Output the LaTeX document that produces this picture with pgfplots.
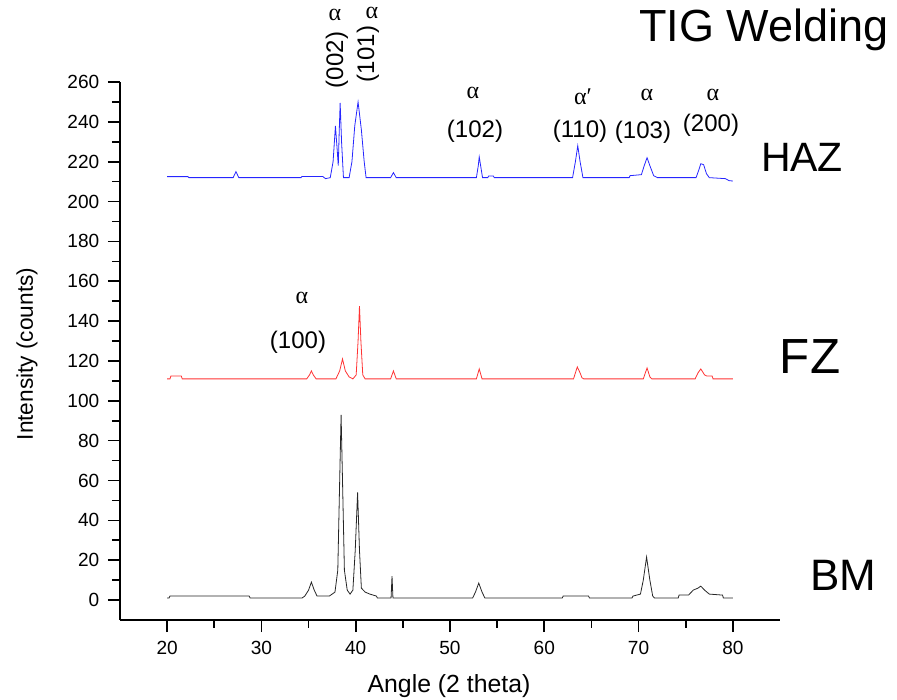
\documentclass[border=0pt]{standalone}
\usepackage{fontspec}
\setmainfont{Liberation Sans}
\newfontfamily\grk{Liberation Serif}
\usepackage{pgfplots}
\pgfplotsset{compat=1.18}

% XRD patterns, TIG welded sample: base metal, fusion zone, heat affected zone
\pgfplotstableread{
x y
20.0 1
20.2 1
20.3 2
28.7 2
28.8 1
34.3 1
34.6 2
35.0 5
35.3 9
35.6 5
35.9 2
37.2 2
37.8 4
38.1 15
38.3 60
38.45 93
38.6 60
38.8 15
39.1 5
39.4 3
39.7 5
39.95 25
40.2 54
40.4 25
40.6 6
41.0 4
41.5 3
42.2 2
42.3 1
43.75 1
43.85 12
43.95 1
52.4 1
52.7 4
53.05 8.5
53.4 4
53.7 1
61.9 1
62.0 2
64.7 2
64.8 1
69.3 1
69.4 2
70.2 3
70.5 10
70.85 21.6
71.2 10
71.5 2
71.7 1
74.2 1
74.3 2.5
75.3 2.5
75.8 5
76.3 6
76.6 7
77.0 5
77.5 3
78.9 2.5
79.0 1
80.0 1
}\bm

\pgfplotstableread{
x y
20.0 111
20.3 111
20.4 112.5
21.5 112.5
21.6 111
34.8 111
35.1 113
35.3 115
35.5 113
35.8 111
37.9 111
38.3 115
38.6 121
38.9 115
39.3 112
39.7 111
40.05 113
40.25 130
40.4 147.5
40.55 130
40.75 113
41.0 111
43.7 111
44.0 115
44.3 111
52.8 111
53.1 116
53.4 111
63.1 111
63.3 114
63.5 117
63.8 114
64.0 111.5
64.2 111
70.5 111
70.9 116.5
71.2 112
71.4 111
76.0 111
76.3 114
76.6 116
77.0 113
77.2 112.5
77.8 112.5
77.9 111
80.0 111
}\fz

\pgfplotstableread{
x y
20.0 212.5
22.2 212.5
22.3 212
27.0 212
27.3 215
27.6 212
34.2 212
34.3 212.6
36.5 212.6
36.8 211.5
37.3 212
37.6 220
37.85 238
38.05 225
38.15 218
38.25 235
38.35 249.5
38.5 230
38.7 212
39.3 212
39.6 220
39.9 238
40.25 250
40.6 236
40.9 220
41.1 212
43.7 212
44.0 214.5
44.3 212
52.8 212
53.0 218
53.1 222.4
53.25 218
53.45 212
54.0 212
54.1 212.8
54.6 212.8
54.7 212
63.0 212
63.3 220
63.55 228
63.8 220
64.1 212
69.0 212
69.1 213
70.3 213.5
70.6 218
70.9 222
71.2 218
71.6 213
72.0 212
76.1 212
76.4 216
76.6 219
76.9 218.5
77.2 214
77.5 212
79.2 211.5
79.6 210.5
80.0 210.3
}\haz

\begin{document}
\begin{tikzpicture}[x=0.75pt,y=0.75pt]
% page frame; the axis corner sits at (0,0)
\useasboundingbox (-120,-80) rectangle (777,620);
\begin{axis}[
  scale only axis, width=495pt, height=403.5pt,
  xmin=15, xmax=85, ymin=-10, ymax=260,
  axis lines=left, axis line style={-, line width=1.4pt},
  xtick={20,30,...,80}, ytick={0,20,...,260},
  minor x tick num=1, minor y tick num=1,
  tick align=outside, major tick length=9pt, minor tick length=6pt,
  every tick/.style={black, line width=1.2pt},
  tick label style={font=\fontsize{14.3}{16}\selectfont},
  xticklabel style={yshift=-3pt},
  yticklabel style={xshift=-3pt},
  /pgf/number format/assume math mode=true,
  clip=false,
]
\addplot[black!85, line width=0.6pt] table {\bm};
\addplot[red!80, line width=0.6pt] table {\fz};
\addplot[blue!85, line width=0.6pt] table {\haz};
\end{axis}

\begin{scope}[shift={(-120,-80)}]
% axis titles
\node[anchor=base, inner sep=0, font=\fontsize{18.6}{20}\selectfont] at (449,7) {Angle (2 theta)};
\node[anchor=base, rotate=90, inner sep=0, font=\fontsize{17}{19}\selectfont] at (33,346) {Intensity (counts)};

% headings
\node[inner sep=0, font=\fontsize{33.75}{36}\selectfont] at (764,670) {TIG Welding};
\node[inner sep=0, font=\fontsize{30.75}{33}\selectfont] at (802,543) {HAZ};
\node[inner sep=0, font=\fontsize{37}{40}\selectfont] at (810,343) {FZ};
\node[inner sep=0, font=\fontsize{33}{36}\selectfont] at (843,125) {BM};

% reflection indices
\begin{scope}[every node/.style={inner sep=0, font=\fontsize{18}{20}\selectfont}]
\node at (335,685) {\grk α};
\node[rotate=90] at (337,640) {(002)};
\node at (372,687) {\grk α};
\node[rotate=90] at (368,646) {(101)};
\node at (473,607) {\grk α};
\node at (475,569) {(102)};
\node at (583,603) {\grk α′};
\node at (580,569) {(110)};
\node at (647,605) {\grk α};
\node at (643,568) {(103)};
\node at (713,605) {\grk α};
\node at (711,575) {(200)};
\node at (302,402) {\grk α};
\node at (298,358) {(100)};
\end{scope}
\end{scope}
\end{tikzpicture}
\end{document}
